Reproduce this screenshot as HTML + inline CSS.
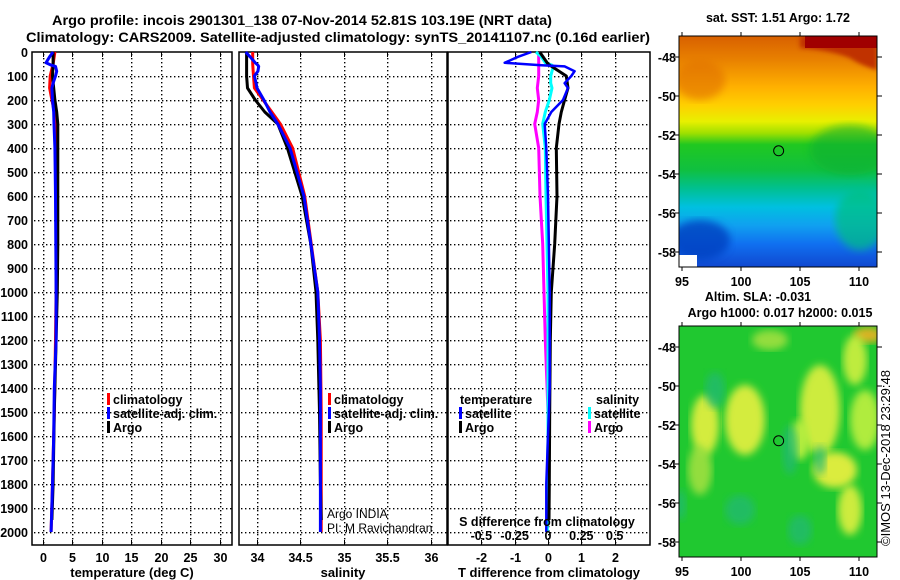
<!DOCTYPE html>
<html><head><meta charset="utf-8"><style>
html,body{margin:0;padding:0;background:#fff;}
svg{display:block;font-family:"Liberation Sans",sans-serif;font-weight:bold;}
</style></head><body>
<svg id="chart" width="900" height="580" viewBox="0 0 900 580" xmlns="http://www.w3.org/2000/svg">
<defs>
<linearGradient id="sstGrad" x1="0" y1="0" x2="0" y2="1">
<stop offset="0" stop-color="#d86000"/><stop offset="0.1" stop-color="#e88000"/>
<stop offset="0.22" stop-color="#ffb000"/><stop offset="0.3" stop-color="#ffd000"/>
<stop offset="0.37" stop-color="#e8f000"/><stop offset="0.42" stop-color="#a0e000"/>
<stop offset="0.47" stop-color="#20c820"/><stop offset="0.58" stop-color="#10c040"/>
<stop offset="0.66" stop-color="#00c090"/><stop offset="0.74" stop-color="#00c0e0"/>
<stop offset="0.82" stop-color="#10a0f0"/><stop offset="0.9" stop-color="#1070f0"/>
<stop offset="1" stop-color="#1048d0"/>
</linearGradient>
<filter id="blur"><feGaussianBlur stdDeviation="4"/></filter>
<filter id="blur2"><feGaussianBlur stdDeviation="2"/></filter>
<clipPath id="clipTop"><rect x="679" y="36" width="198" height="231"/></clipPath>
<clipPath id="clipBot"><rect x="679" y="326" width="198" height="231"/></clipPath>
</defs>
<g id="root"></g>
</svg>
<script>
// ---- data ----
const depthTicks = [0,100,200,300,400,500,600,700,800,900,1000,1100,1200,1300,1400,1500,1600,1700,1800,1900,2000];
const tempTicks = [0,5,10,15,20,25,30];
const salTicks = [34,34.5,35,35.5,36];
const salTickLabels = ["34","34.5","35","35.5","36"];
const tdiffTicks = [-2,-1,0,1,2];
const sdiffTicks = [-0.5,-0.25,0,0.25,0.5];
const sdiffTickLabels = ["-0.5","-0.25","0","0.25","0.5"];

const climDepth = [0,50,100,150,200,250,300,400,600,1000,1200,1500,1800,2000];
const climTemp  = [2.1,1.8,1.3,1.2,1.6,2.0,2.3,2.3,2.3,2.3,2.2,2.0,1.7,1.45];
const satDepth = [0,20,45,55,60,80,100,130,150,200,250,300,400,600,1000,1200,1400,1600,1800,2000];
const satTemp  = [1.8,1.2,0.6,1.5,2.2,2.4,2.2,1.8,1.6,1.7,1.9,1.95,2.1,2.2,2.3,2.3,2.0,1.9,1.7,1.45];
const argoDepth = [0,50,100,150,200,250,300,400,600,800,1000,1200,1500,1800,1950];
const argoTemp  = [1.8,1.8,1.7,1.9,2.1,2.4,2.6,2.6,2.6,2.6,2.5,2.3,2.0,1.8,1.6];

const climSal = [33.95,33.95,33.96,33.97,34.07,34.17,34.27,34.41,34.55,34.70,34.73,34.74,34.74,34.74];
const satSal  = [33.87,33.92,33.98,34.01,34.02,34.01,33.97,33.99,34.0,34.08,34.15,34.24,34.38,34.54,34.70,34.72,34.73,34.73,34.73,34.73];
const argoSal = [33.88,33.88,33.88,33.89,33.98,34.09,34.24,34.35,34.52,34.62,34.68,34.70,34.72,34.73,34.74];

const satTdiff  = [-0.5,-0.9,-1.3,-0.2,0.5,0.8,0.7,0.5,0.6,0.45,0.1,-0.1,-0.05,0.0,0.05,0.05,0.05,0.0,-0.05,-0.05];
const argoTdiff = [-0.25,0.0,0.55,0.6,0.5,0.4,0.33,0.25,0.27,0.2,0.1,0.07,0.05,0.04,0.03];
const satSdiff  = [-0.09,-0.05,-0.02,0.03,0.04,0.03,0.02,0.02,0.03,0.01,-0.02,-0.04,-0.02,-0.015,0,0,0,0,-0.005,-0.005];
const argoSdiff = [-0.07,-0.07,-0.07,-0.08,-0.07,-0.08,-0.1,-0.07,-0.06,-0.04,-0.03,-0.02,0.0,0.0,0.0];

const latTicks = [-48,-50,-52,-54,-56,-58];
const lonTicks = [95,100,105,110];

// ---- axes ----
const yD = d => 52 + d*0.24;
const xT = t => 42.5 + t*5.9;
const xS = s => 257 + (s-34)*86.8;
const xTD = t => 548 + t*33.3;
const xSD = s => 548 + s*133.3;
const mapX = lon => 682 + (lon-95)*11.8;
const latY0 = lat => 57 + (-48-lat)*19.5;
const latY1 = lat => 347 + (-48-lat)*19.5;

const NS="http://www.w3.org/2000/svg";
const root=document.getElementById('root');
function mk(tag,attrs,parent){const e=document.createElementNS(NS,tag);for(const k in attrs)e.setAttribute(k,attrs[k]);(parent||root).appendChild(e);return e;}
function txt(x,y,s,size,anchor,parent,extra){const e=mk('text',Object.assign({x:x,y:y,'font-size':size,'text-anchor':anchor||'middle'},extra||{}),parent);e.textContent=s;return e;}

// titles
let t1=txt(302,25,"Argo profile: incois 2901301_138 07-Nov-2014 52.81S 103.19E (NRT data)",14,'middle',null,{textLength:500,lengthAdjust:'spacingAndGlyphs'});


let t2=txt(338,42,"Climatology: CARS2009. Satellite-adjusted climatology: synTS_20141107.nc (0.16d earlier)",14,'middle',null,{textLength:624,lengthAdjust:'spacingAndGlyphs'});



function panel(name,x0,x1,xticks,xfun,xlabels,xtitle,showDepth){
  const g=mk('g',{});
  
  
  let d='';
  depthTicks.forEach(dp=>{ if(dp>0){ const y=Math.round(yD(dp)); for(let x=x0+2;x<x1-1;x+=4) d+='M'+x+' '+y+'h1.4v1.4h-1.4z'; } });
  xticks.forEach(v=>{ const x=Math.round(xfun(v)); for(let y=54;y<544;y+=4) d+='M'+x+' '+y+'h1.4v1.4h-1.4z'; });
  const grid=mk('path',{d:d,fill:'#000'},g);
  
  
  xticks.forEach((v,i)=>{ const x=Math.round(xfun(v))+0.5;
    mk('line',{x1:x,x2:x,y1:52,y2:57,stroke:'#000'},g);
    mk('line',{x1:x,x2:x,y1:540,y2:545,stroke:'#000'},g);
    const l=txt(x,562,xlabels[i],12.5,'middle',g);  
  });
  mk('rect',{x:x0,y:52,width:x1-x0,height:493,fill:'none',stroke:'#000','stroke-width':1.5},g);
  const tt=txt((x0+x1)/2,577,xtitle,13,'middle',g);
  
  
  if(showDepth){ depthTicks.forEach(dp=>{ const l=txt(28,yD(dp)+5,String(dp),12.5,'end',g);
      }); }
  return g;
}
const p1=panel('temperature-panel',32,232,tempTicks,xT,tempTicks.map(String),'temperature (deg C)',true);
const p2=panel('salinity-panel',239,447,salTicks,xS,salTickLabels,'salinity',false);
const p3=panel('difference-panel',448,650,tdiffTicks,xTD,tdiffTicks.map(String),'T difference from climatology',false);

function series(g,depths,vals,xf,color,name,w){
  const pts=depths.map((d,i)=>xf(vals[i]).toFixed(1)+','+yD(d).toFixed(1)).join(' ');
  const p=mk('polyline',{points:pts,fill:'none',stroke:color,'stroke-width':w||3,'stroke-linejoin':'round'},g);
  
  
}
series(p1,climDepth,climTemp,xT,'#ff0000','climatology-temp-line');
series(p1,argoDepth,argoTemp,xT,'#000000','argo-temp-line');
series(p1,satDepth,satTemp,xT,'#0000ff','satellite-temp-line');
series(p2,climDepth,climSal,xS,'#ff0000','climatology-sal-line');
series(p2,argoDepth,argoSal,xS,'#000000','argo-sal-line');
series(p2,satDepth,satSal,xS,'#0000ff','satellite-sal-line');
series(p3,argoDepth,argoSdiff,xSD,'#ff00ff','argo-sdiff-line');
series(p3,satDepth,satSdiff,xSD,'#00ffff','satellite-sdiff-line');
series(p3,argoDepth,argoTdiff,xTD,'#000000','argo-tdiff-line');
series(p3,satDepth,satTdiff,xTD,'#0000ff','satellite-tdiff-line',2.5);

function legend(g,x,y,label,color){
  const lg=mk('g',{},g);
  
  
  mk('rect',{x:x,y:y-11,width:3,height:12,fill:color},lg);
  txt(x+6,y,label,12.5,'start',lg);
}
legend(p1,107,404,'climatology','#ff0000');
legend(p1,107,418,'satellite-adj. clim.','#0000ff');
legend(p1,107,432,'Argo','#000000');
legend(p2,328,404,'climatology','#ff0000');
legend(p2,328,418,'satellite-adj. clim.','#0000ff');
legend(p2,328,432,'Argo','#000000');
let lt=txt(460,404,'temperature',12.5,'start',p3);  
let ls=txt(596,404,'salinity',12.5,'start',p3);  
legend(p3,459,418,'satellite','#0000ff');
legend(p3,459,432,'Argo','#000000');
legend(p3,588,418,'satellite','#00ffff');
legend(p3,588,432,'Argo','#ff00ff');
let sdt=txt(547,526,'S difference from climatology',12.5,'middle',p3);  
sdiffTicks.forEach((v,i)=>{ const l=txt(xSD(v),540,sdiffTickLabels[i],12.5,'middle',p3);   });
let ai=txt(327,518,'Argo INDIA',12,'start',p2,{'font-weight':'normal'});  
let pi=txt(327,532,'PI: M Ravichandran',12,'start',p2,{'font-weight':'normal'});  

// ---- maps ----
function mapFrame(name,titles){
  const g=mk('g',{});
  
  
  titles.forEach(s=>{ const t=txt(s[1],s[2],s[0],12.5,'middle',g);   });
  return g;
}
// SST map
const m1=mapFrame('sst-map',[['sat. SST: 1.51 Argo: 1.72',778,22]]);
const c1=mk('g',{'clip-path':'url(#clipTop)'},m1);
mk('rect',{x:679,y:36,width:198,height:231,fill:'url(#sstGrad)'},c1);
mk('path',{d:'M800 36 H877 V70 Q860 65 850 58 Q830 50 800 48 Z',fill:'#c03000',filter:'url(#blur2)'},c1);
mk('rect',{x:805,y:36,width:72,height:12,fill:'#a00000'},c1);
mk('ellipse',{cx:700,cy:80,rx:25,ry:20,fill:'#e07000',opacity:0.6,filter:'url(#blur)'},c1);
mk('ellipse',{cx:850,cy:150,rx:40,ry:25,fill:'#10b030',opacity:0.6,filter:'url(#blur)'},c1);
mk('ellipse',{cx:700,cy:240,rx:30,ry:20,fill:'#0040c0',opacity:0.8,filter:'url(#blur)'},c1);
mk('ellipse',{cx:860,cy:220,rx:25,ry:30,fill:'#00c080',opacity:0.7,filter:'url(#blur)'},c1);
mk('rect',{x:679,y:255,width:18,height:12,fill:'#fff'},c1);
mk('circle',{cx:mapX(103.19),cy:latY0(-52.81),r:5,fill:'none',stroke:'#000','stroke-width':1},m1);
mk('rect',{x:679,y:36,width:198,height:231,fill:'none',stroke:'#000'},m1);
// SLA map
const m2=mapFrame('sla-map',[['Altim. SLA: -0.031',758,301],['Argo h1000: 0.017 h2000: 0.015',780,317]]);
const c2=mk('g',{'clip-path':'url(#clipBot)'},m2);
mk('rect',{x:679,y:326,width:198,height:231,fill:'#20c830'},c2);
[[705,425,14,30,'#e8f040'],[745,420,20,35,'#e8f040'],[820,410,20,45,'#e0f040'],[835,470,22,18,'#f0f040'],[850,510,12,25,'#e0f040'],[865,420,15,30,'#c0f040'],[868,335,15,8,'#f0b020'],[770,340,18,10,'#a0e040'],[700,470,12,25,'#a0e040'],[855,360,12,25,'#d0f040'],[800,440,10,20,'#c0f040']].forEach(b=>{
  mk('ellipse',{cx:b[0],cy:b[1],rx:b[2],ry:b[3],fill:b[4],opacity:0.9,filter:'url(#blur)'},c2);
});
[[715,390,10,18],[790,450,8,25],[740,510,15,15],[800,530,12,15],[680,505,6,15],[820,460,6,15]].forEach(b=>{
  mk('ellipse',{cx:b[0],cy:b[1],rx:b[2],ry:b[3],fill:'#20b878',opacity:0.7,filter:'url(#blur)'},c2);
});
mk('circle',{cx:mapX(103.19),cy:latY1(-52.81),r:5,fill:'none',stroke:'#000','stroke-width':1},m2);
mk('rect',{x:679,y:326,width:198,height:231,fill:'none',stroke:'#000'},m2);

[[m1,latY0,36,267],[m2,latY1,326,557]].forEach(([g,ly,top,bot])=>{
  latTicks.forEach(lat=>{ const y=ly(lat);
    mk('line',{x1:877,x2:882,y1:y,y2:y,stroke:'#000'},g);
    mk('line',{x1:675,x2:679,y1:y,y2:y,stroke:'#000'},g);
    const l=txt(676,y+5,String(lat),12.5,'end',g);   });
  lonTicks.forEach(lon=>{ const x=mapX(lon);
    mk('line',{x1:x,x2:x,y1:bot,y2:bot+4,stroke:'#000'},g);
    mk('line',{x1:x,x2:x,y1:top-4,y2:top,stroke:'#000'},g);
    const l=txt(x,bot+19,String(lon),12.5,'middle',g);   });
});
let cr=txt(0,0,'©IMOS 13-Dec-2018 23:29:48',12.5,'middle',null,{'font-weight':'normal',transform:'translate(890,458) rotate(-90)',textLength:176,lengthAdjust:'spacingAndGlyphs'});


</script>
</body></html>
